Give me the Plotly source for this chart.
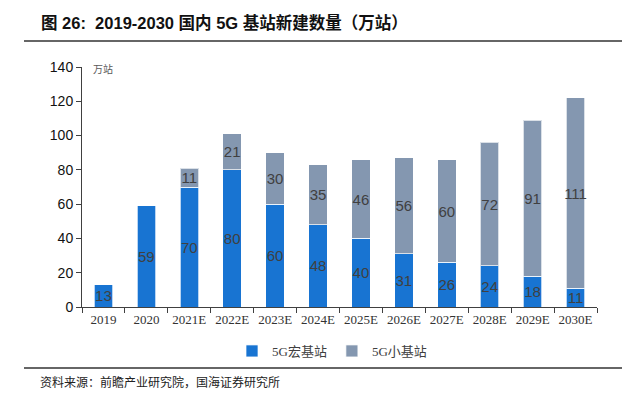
import plotly.graph_objects as go

categories = ["2019", "2020", "2021E", "2022E", "2023E", "2024E", "2025E",
              "2026E", "2027E", "2028E", "2029E", "2030E"]
macro = [13, 59, 70, 80, 60, 48, 40, 31, 26, 24, 18, 11]
small = [0, 0, 11, 21, 30, 35, 46, 56, 60, 72, 91, 111]
y_ticks = [0, 20, 40, 60, 80, 100, 120, 140]

# page body has an 8px margin, so the figure is drawn in a 622x387 box offset by 8px
OFF = 8
W, H = 630 - OFF, 395 - OFF
# plot area in page pixels: x 82..597, y 67..307
PL, PR, PT, PB = 82, 597, 67, 307
L, R, T, B = PL - OFF, W - (PR - OFF), PT - OFF, H - (PB - OFF)
pw, ph = PR - PL, PB - PT


def px(x):
    return (x - PL) / pw


def py(y):
    return (PB - y) / ph


label_font = dict(family="Liberation Sans, Arial, sans-serif", size=15, color="#404040")
cjk_serif = "Liberation Serif, Noto Sans CJK SC, serif"

fig = go.Figure()
fig.add_trace(go.Bar(
    x=categories, y=macro, name="5G宏基站",
    marker=dict(color="#1874D2", line=dict(color="rgba(255,255,255,0.7)", width=1)),
    text=[str(v) if v else "" for v in macro], textposition="inside",
    insidetextanchor="middle", textangle=0, constraintext="none",
    textfont=label_font, hoverinfo="skip",
))
fig.add_trace(go.Bar(
    x=categories, y=small, name="5G小基站",
    marker=dict(color="#8497B0", line=dict(color="rgba(255,255,255,0.7)", width=1)),
    text=[str(v) if v else "" for v in small], textposition="inside",
    insidetextanchor="middle", textangle=0, constraintext="none",
    textfont=label_font, hoverinfo="skip",
))

fig.update_layout(
    width=W, height=H, barmode="stack", bargap=0.57,
    margin=dict(l=L, r=R, t=T, b=B, autoexpand=False),
    paper_bgcolor="white", plot_bgcolor="white",
    showlegend=True,
    legend=dict(orientation="h", x=px(332), xanchor="center", y=py(351), yanchor="middle",
                font=dict(family=cjk_serif, size=13, color="#404040"),
                itemwidth=30, tracegroupgap=0, traceorder="normal"),
    xaxis=dict(type="category", showline=True, linecolor="#404040", linewidth=1,
               ticks="outside", tickson="boundaries", ticklen=5, tickcolor="#404040",
               tickangle=0,
               tickfont=dict(family="Liberation Serif, serif", size=13, color="#333333"),
               showgrid=False, zeroline=False),
    yaxis=dict(range=[0, 140], tickvals=y_ticks, showline=True, linecolor="#404040",
               linewidth=1, ticks="outside", ticklen=5, tickcolor="#404040",
               tickfont=dict(family="Liberation Sans, Arial, sans-serif", size=14, color="#111111"),
               showgrid=False, zeroline=False),
    annotations=[
        dict(text="<b>图 26:  2019-2030 国内 5G 基站新建数量（万站）</b>", xref="paper", yref="paper",
             x=px(39), y=py(22), xanchor="left", yanchor="middle", showarrow=False,
             font=dict(family="Liberation Sans, Noto Sans CJK SC, sans-serif", size=16.5, color="#111111")),
        dict(text="万站", xref="paper", yref="paper", x=px(91), y=py(68), xanchor="left",
             yanchor="middle", showarrow=False,
             font=dict(family="Noto Sans CJK SC, sans-serif", size=10, color="#595959")),
        dict(text="资料来源：前瞻产业研究院，国海证券研究所", xref="paper", yref="paper",
             x=px(38), y=py(381), xanchor="left", yanchor="middle", showarrow=False,
             font=dict(family="Noto Sans CJK SC, sans-serif", size=12, color="#222222")),
    ],
    shapes=[
        dict(type="line", xref="paper", yref="paper", x0=px(24), x1=px(630), y0=py(41), y1=py(41),
             line=dict(color="#666666", width=2)),
        dict(type="line", xref="paper", yref="paper", x0=px(24), x1=px(630), y0=py(368), y1=py(368),
             line=dict(color="#666666", width=2)),
    ],
)

fig.write_html("out.html")
